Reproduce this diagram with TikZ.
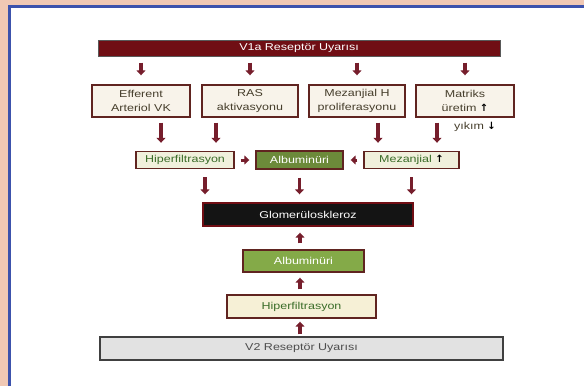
\documentclass[tikz,border=0pt]{standalone}
\usepackage{amsmath}
\usepackage{fontspec}
\setmainfont{Liberation Sans}[FakeStretch=1.25]
\newfontfamily\okfont{DejaVu Sans}
\usetikzlibrary{arrows.meta,positioning,calc}
\definecolor{bordoV}{RGB}{112,14,20}
\definecolor{kahveK}{RGB}{96,36,32}
\definecolor{okRenk}{RGB}{118,30,44}
\definecolor{zeytin}{RGB}{108,138,58}
\definecolor{yesilA}{RGB}{132,170,72}
\definecolor{yaziY}{RGB}{58,108,40}
\definecolor{yaziK}{RGB}{70,62,44}
\definecolor{krem}{RGB}{248,243,234}
\definecolor{kremY}{RGB}{240,240,220}
\definecolor{kremS}{RGB}{246,240,214}
\definecolor{griV}{RGB}{226,226,226}
\definecolor{seftali}{RGB}{240,200,180}
\definecolor{cerceve}{RGB}{60,82,172}
\newcommand{\yukari}{{\color{black}\okfont\bfseries ↑}}
\newcommand{\asagi}{{\color{black}\okfont\bfseries ↓}}

\begin{document}
\begin{tikzpicture}[
    x=1pt,y=-1pt,
    kutu/.style={draw=kahveK,line width=1.4pt,fill=krem,text=yaziK,
      font=\fontsize{10}{14}\selectfont,align=center,inner sep=1pt},
    ok/.style={-{Triangle[length=5pt,width=9pt]},line width=3.6pt,okRenk}
  ]
  \useasboundingbox (0,0) rectangle (584,386);
  % cerceve
  \fill[seftali] (0,0) rectangle (584,5);
  \fill[seftali] (0,0) rectangle (8,386);
  \draw[cerceve,line width=3pt] (9.5,386) -- (9.5,6.5) -- (584,6.5);

  % V1a
  \node[kutu,fill=bordoV,draw=black!65,line width=1pt,text=white,
    minimum width=402,minimum height=16] (v1a) at (299,48)
    {V1a Reseptör Uyarısı};

  \node[kutu,minimum width=98,minimum height=32] (eff) at (141,101)
    {Efferent\\Arteriol VK};
  \node[kutu,minimum width=96,minimum height=32] (ras) at (250,101)
    {RAS\\aktivasyonu};
  \node[kutu,minimum width=96,minimum height=32] (mzp) at (357,101)
    {Mezanjial H\\proliferasyonu};
  \node[kutu,minimum width=98,minimum height=32] (mat) at (465,101)
    {Matriks\\üretim \yukari};
  \node[font=\fontsize{10}{12}\selectfont,text=yaziK,inner sep=0pt]
    (yik) at (475,127) {yıkım \asagi};

  \foreach \k in {eff,ras,mzp,mat}{
    \draw[ok,shorten <=6pt,shorten >=9pt] (\k.north |- v1a.south) -- (\k.north);
  }

  % orta sira
  \node[kutu,fill=kremY,text=yaziY,minimum width=98,minimum height=17]
    (hip) at (185,160) {Hiperfiltrasyon};
  \node[kutu,fill=zeytin,text=white,minimum width=87,minimum height=18]
    (alb) at (299.5,160) {Albuminüri};
  \node[kutu,fill=kremY,text=yaziY,minimum width=95,minimum height=17]
    (mzj) at (411.5,160) {Mezanjial \yukari};

  \draw[ok,shorten <=5pt,shorten >=8pt]
    ([xshift=20pt]eff.south) -- ([xshift=20pt]eff.south |- hip.north);
  \draw[ok,shorten <=5pt,shorten >=8pt]
    ([xshift=-34pt]ras.south) -- ([xshift=-34pt]ras.south |- hip.north);
  \draw[ok,shorten <=5pt,shorten >=8pt]
    ([xshift=21pt]mzp.south) -- ([xshift=21pt]mzp.south |- mzj.north);
  \draw[ok,shorten <=5pt,shorten >=8pt]
    ([xshift=-28pt]mat.south) -- ([xshift=-28pt]mat.south |- mzj.north);

  \draw[ok,line width=3pt,shorten <=6pt,shorten >=6pt] (hip.east) -- (alb.west);
  \draw[ok,line width=3pt,shorten <=6pt,shorten >=7pt] (mzj.west) -- (alb.east);

  % glomeruloskleroz
  \node[kutu,fill=black!92,draw=bordoV,text=white,minimum width=210,
    minimum height=23] (glom) at (308,214.5) {Glomerüloskleroz};

  \draw[ok,shorten <=8pt,shorten >=8pt]
    ([xshift=20pt]hip.south) -- ([xshift=20pt]hip.south |- glom.north);
  \draw[ok,shorten <=8pt,shorten >=8pt] (alb.south) -- (alb.south |- glom.north);
  \draw[ok,shorten <=8pt,shorten >=8pt] (mzj.south) -- (mzj.south |- glom.north);

  % alt kisim
  \node[kutu,fill=yesilA,draw=kahveK,text=white,minimum width=121,
    minimum height=22] (alb2) at (303.5,261) {Albuminüri};
  \node[kutu,fill=kremS,text=yaziY,minimum width=149,minimum height=23]
    (hip2) at (301.5,306.5) {Hiperfiltrasyon};
  \node[kutu,fill=griV,draw=black!75,text=black!70,minimum width=403,
    minimum height=23] (v2) at (301.5,348.5) {V2 Reseptör Uyarısı};

  \draw[ok,shorten <=6pt,shorten >=6pt]
    ([xshift=-3.5pt]alb2.north) -- ([xshift=-3.5pt]alb2.north |- glom.south);
  \draw[ok,shorten <=5pt,shorten >=5pt]
    ([xshift=-1.5pt]hip2.north) -- ([xshift=-1.5pt]hip2.north |- alb2.south);
  \draw[ok,shorten <=2pt,shorten >=3pt]
    ([xshift=-1.5pt]v2.north) -- ([xshift=-1.5pt]v2.north |- hip2.south);
\end{tikzpicture}
\end{document}
